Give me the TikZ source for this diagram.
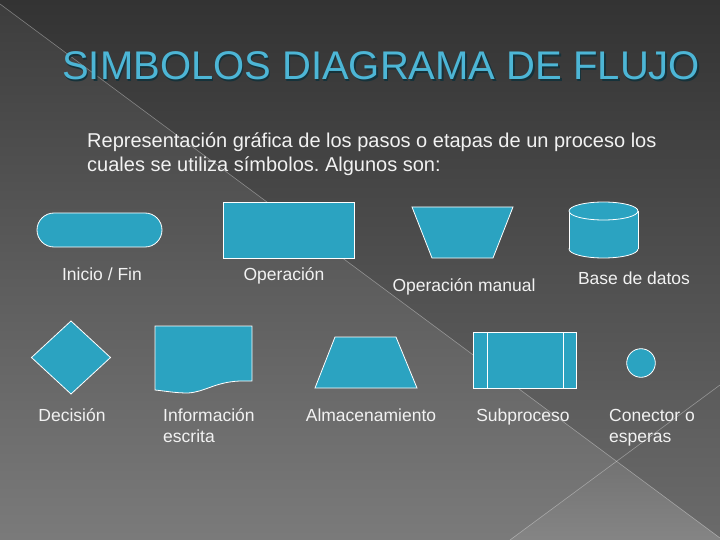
\documentclass[tikz,border=0pt]{standalone}
\usepackage{fontspec}
\setmainfont{Liberation Sans}
\frenchspacing
\definecolor{shp}{HTML}{2BA3C1}
\definecolor{ttl}{HTML}{4DB6D6}
\definecolor{ttlsh}{HTML}{16323A}
\definecolor{txt}{HTML}{F2F2F2}
\tikzset{
  sym/.style={fill=shp, draw=white, line width=0.8pt, line join=miter},
  lbl/.style={text=txt, font=\fontsize{17.5}{21}\selectfont, inner sep=0pt},
  body/.style={text=txt, font=\fontsize{20}{24}\selectfont, inner sep=0pt, anchor=base west},
  bgline/.style={draw=white, opacity=0.35, line width=0.6pt}
}
\begin{document}
\begin{tikzpicture}[x=1pt,y=-1pt]
\useasboundingbox (0,0) rectangle (720,540);
% background
\shade[top color=black!80, bottom color=black!58] (0,0) rectangle (720,540);
\shade[top color=black!76, bottom color=black!52] (0,4) -- (720,538) -- (720,540) -- (0,540) -- cycle;
\shade[top color=black!55, bottom color=black!48] (510,540) -- (617,462) -- (720,538) -- (720,540) -- cycle;
\coordinate (d1) at (0,4);
\coordinate (d2) at (720,538);
\coordinate (e1) at (510,540);
\coordinate (e2) at (720,385);
\draw[bgline] (d1) -- (d2);
\draw[bgline] (e1) -- (e2);
% title
\node[anchor=base west, inner sep=0pt, text=ttlsh, font=\fontsize{40}{44}\selectfont] (tsh) at (63.5,81.5) {SIMBOLOS DIAGRAMA DE FLUJO};
\node[anchor=base west, inner sep=0pt, text=ttl, font=\fontsize{40}{44}\selectfont] (title) at (62,80) {SIMBOLOS DIAGRAMA DE FLUJO};
% body
\node[body] (b1) at (87,148) {Representación gráfica de los pasos o etapas de un proceso los};
\node[body] (b2) at (87,172) {cuales se utiliza símbolos. Algunos son:};
% row 1 shapes
\draw[sym, rounded corners=17pt] (37,213) rectangle (162,247);
\draw[sym] (223,202) rectangle (354,258);
\draw[sym] (412,207) -- (513,207) -- (493,258) -- (432,258) -- cycle;
% cylinder
\draw[sym] (603.5,249) ellipse [x radius=34.5pt, y radius=9pt];
\fill[shp] (569,211) rectangle (638,249);
\draw[white, line width=0.8pt] (569,211) -- (569,249) (638,211) -- (638,249);
\draw[sym] (603.5,211) ellipse [x radius=34.5pt, y radius=9pt];
% row 1 labels
\node[lbl, anchor=base] (l1) at (102,280) {Inicio / Fin};
\node[lbl, anchor=base] (l2) at (284,280) {Operación};
\node[lbl, anchor=base] (l3) at (464,291) {Operación manual};
\node[lbl, anchor=base] (l4) at (634,284) {Base de datos};
% row 2 shapes
\draw[sym] (71,321) -- (110.5,357.5) -- (71,394) -- (31.5,357.5) -- cycle;
\draw[sym] (155,326) -- (252,326) -- (252,381) -- (240,381) .. controls (215,382) and (205,392) .. (188,393) .. controls (175,393) and (165,391) .. (155,390) -- cycle;
\draw[sym] (335,337) -- (396,337) -- (417,388) -- (315,388) -- cycle;
\draw[sym] (473,332) rectangle (576,388);
\draw[white, line width=0.8pt] (487,332) -- (487,388) (563,332) -- (563,388);
\draw[sym] (641,363) circle [radius=14.3pt];
% row 2 labels
\node[lbl, anchor=base] (l5) at (72,421) {Decisión};
\node[lbl, anchor=base west] (l6a) at (163,421) {Información};
\node[lbl, anchor=base west] (l6b) at (163,442) {escrita};
\node[lbl, anchor=base] (l7) at (371,421) {Almacenamiento};
\node[lbl, anchor=base] (l8) at (523,421) {Subproceso};
\node[lbl, anchor=base west] (l9a) at (609,421) {Conector o};
\node[lbl, anchor=base west] (l9b) at (609,442) {esperas};
\end{tikzpicture}
\end{document}
